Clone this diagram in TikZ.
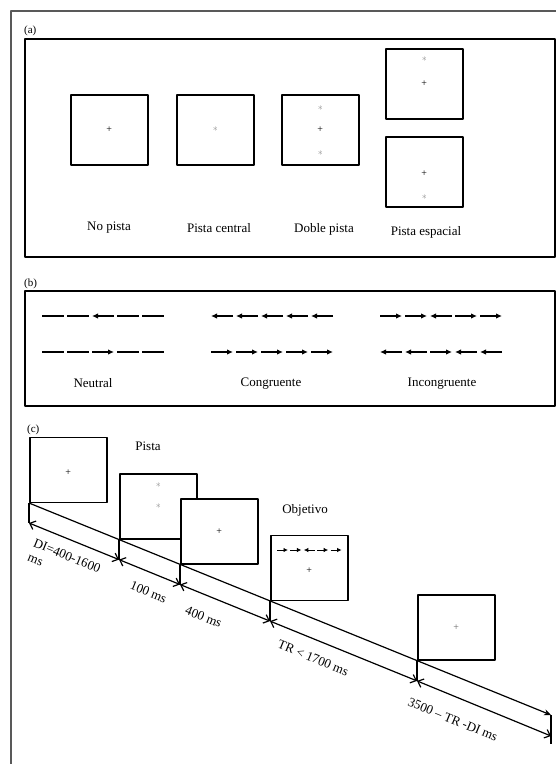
\documentclass[tikz,border=0pt]{standalone}
\usepackage{fontspec}
\setmainfont{Liberation Serif}
\usetikzlibrary{arrows.meta,calc}
% one row of flanker arrows: dirs -1 left, 1 right, 0 plain line
\newcommand{\flankers}[6][flk]{%
  \foreach \d [count=\i from 0] in {#6}{%
    \pgfmathsetmacro{\xa}{#2+\i*#4}%
    \pgfmathsetmacro{\xb}{\xa+#5}%
    \ifnum\d=1 \draw[#1] (\xa,#3) -- (\xb,#3);
    \else\ifnum\d=-1 \draw[#1] (\xb,#3) -- (\xa,#3);
    \else \draw[#1,-] (\xa,#3) -- (\xb,#3);
    \fi\fi}}
\begin{document}
\begin{tikzpicture}[x=1pt,y=-1pt,line join=round,
  font=\fontsize{13}{15}\selectfont,
  panel/.style={draw,line width=1.6pt},
  screen/.style={draw,fill=white,line width=1.5pt,minimum width=77pt,minimum height=70pt,inner sep=0pt},
  fix/.style={font=\fontsize{10}{10}\selectfont,inner sep=0pt},
  cue/.style={font=\fontsize{10}{10}\selectfont,text=black!45,inner sep=0pt},
  tag/.style={font=\fontsize{11}{11}\selectfont,anchor=west,inner sep=0pt},
  flk/.style={line width=1.2pt,-{Latex[length=6pt,width=5.5pt]}},
  flksmall/.style={line width=0.9pt,-{Latex[length=4.5pt,width=4.5pt]}},
  dur/.style={line width=1.2pt,{Straight Barb[length=5pt,width=9pt]}-{Straight Barb[length=5pt,width=9pt]}},
  lbl/.style={inner sep=1pt}]
\useasboundingbox (0,0) rectangle (556,764);
\clip (0,0) rectangle (556,764);
\draw[line width=1.6pt,black!65] (11,11) rectangle (600,800);

% (a) cue conditions
\node[tag] (taga) at (24,31) {(a)};
\draw[panel] (25,39) rectangle (555,257);
\node[screen,anchor=north west] (a1) at (70,94) {};
\node[screen,anchor=north west] (a2) at (176,94) {};
\node[screen,anchor=north west] (a3) at (281,94) {};
\node[screen,anchor=north west] (a4) at (385,48) {};
\node[screen,anchor=north west] (a5) at (385,136) {};
\node[fix] (fa1) at (a1) {+};
\node[cue] (ca2) at ($(a2)+(0,-1)$) {$\ast$};
\node[cue] (ca3t) at ($(a3)+(0,-22)$) {$\ast$};
\node[fix] (fa3) at (a3) {+};
\node[cue] (ca3b) at ($(a3)+(0,23)$) {$\ast$};
\node[cue] (ca4) at ($(a4)+(0,-25)$) {$\ast$};
\node[fix] (fa4) at (a4) {+};
\node[fix] (fa5) at ($(a5)+(0,2)$) {+};
\node[cue] (ca5) at ($(a5)+(0,25)$) {$\ast$};
\node (la1) at (109,228) {No pista};
\node (la2) at (219,228) {Pista central};
\node (la3) at (324,229) {Doble pista};
\node (la4) at (426,232) {Pista espacial};

% (b) flanker types
\node[tag] (tagb) at (24,284) {(b)};
\draw[panel] (25,291) rectangle (555,406);
\flankers{42}{316}{25}{22}{0,0,-1,0,0}
\flankers{42}{352}{25}{22}{0,0,1,0,0}
\flankers{211}{316}{25}{22}{-1,-1,-1,-1,-1}
\flankers{211}{352}{25}{22}{1,1,1,1,1}
\flankers{380}{316}{25}{22}{1,1,-1,1,1}
\flankers{380}{352}{25}{22}{-1,-1,1,-1,-1}
\node (lb1) at (93,383) {Neutral};
\node (lb2) at (271,384) {Congruente};
\node (lb3) at (442,384) {Incongruente};

% (c) trial sequence
\node[tag] (tagc) at (27,430) {(c)};
\coordinate (uE) at (551,715);
\coordinate (lE) at (551,736);
\coordinate (tE) at (551,744);
\node[screen,anchor=south west,minimum height=65pt] (s1) at (29,503) {};
\node[screen,anchor=south west,minimum height=65pt] (s2) at (119,539.6) {};
\node[screen,anchor=south west,minimum height=65pt] (s3) at (180,564.5) {};
\node[screen,anchor=south west,minimum height=65pt] (s4) at (270,601.1) {};
\node[screen,anchor=south west,minimum height=65pt] (s5) at (417,660.9) {};
\node[fix] (fs1) at ($(s1)+(0,3)$) {+};
\node[cue] (cs2t) at ($(s2)+(0,-21)$) {$\ast$};
\node[cue] (cs2) at (s2) {$\ast$};
\node[fix] (fs3) at (s3) {+};
\flankers[flksmall]{277}{550}{13.4}{11}{1,1,-1,1,1}
\node[fix] (fs4) at ($(s4)+(0,3)$) {+};
\node[fix,text=black!60] (fs5) at (s5) {+};
\node (pista) at (148,446) {Pista};
\node (objetivo) at (305,510) {Objetivo};

\foreach \k in {1,...,5}
  \coordinate (l\k) at ($(s\k.south west)+(0,20)$);
\draw[line width=1.2pt,-{Stealth[length=7pt,width=6pt]}] (s1.south west) -- (uE);
\draw[line width=1.2pt] (uE) -- (tE);
\foreach \k in {1,...,5}
  \draw[line width=1.2pt] (s\k.south west) -- (l\k);
\draw[dur] (l1) -- (l2) node[lbl,pos=0.49,sloped,below=10pt,align=left] (d1) {DI=400-1600\\ms};
\draw[dur] (l2) -- (l3) node[lbl,pos=0.6,sloped,below=13pt] (d2) {100 ms};
\draw[dur] (l3) -- (l4) node[lbl,pos=0.35,sloped,below=15pt] (d3) {400 ms};
\draw[dur] (l4) -- (l5) node[lbl,pos=0.34,sloped,below=12pt] (d4) {TR < 1700 ms};
\draw[dur] (l5) -- (lE) node[lbl,pos=0.33,sloped,below=16pt] (d5) {3500 -- TR -DI ms};
\end{tikzpicture}
\end{document}
